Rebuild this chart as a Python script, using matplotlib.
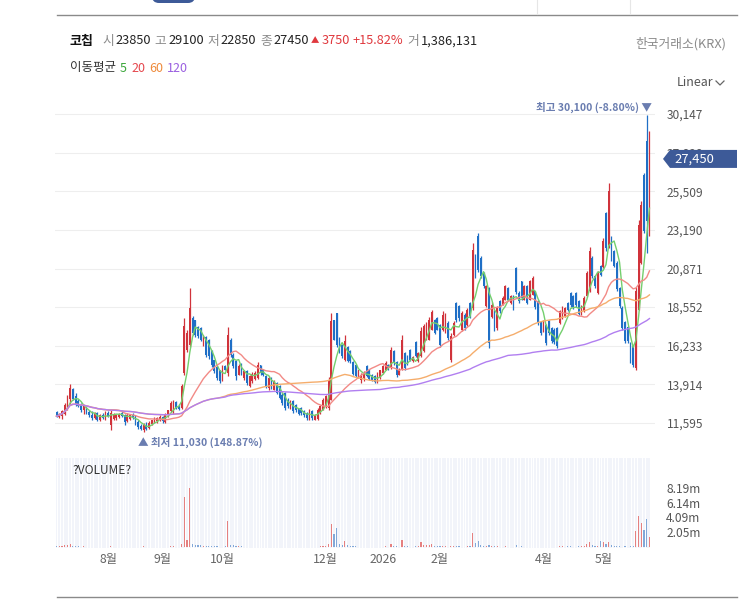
import matplotlib
matplotlib.use('Agg')
import matplotlib.pyplot as plt
import numpy as np
import pandas as pd
from matplotlib.patches import Polygon, FancyBboxPatch
from matplotlib.lines import Line2D
from matplotlib.transforms import IdentityTransform

plt.rcParams['font.family'] = ['Noto Sans CJK KR', 'DejaVu Sans']

# ---------------- data ----------------
stock_name = "코칩"
exchange = "한국거래소(KRX)"

opens = [
    12250,11950,12000,12150,12600,13050,13650,13200,12900,12700,12400,12550,12250,12100,11900,12200,11800,12100,11900,
    12200,11500,11850,11900,11950,12200,12050,11700,11850,12100,11950,11650,11400,11150,11500,11300,11550,11650,11700,11800,
    11950,11650,12050,12300,12400,12850,12600,12500,14600,16000,16300,17900,17750,17350,17300,16300,16750,16600,15950,15350,14950,14750,
    14200,15000,14600,16600,15700,15300,14500,15150,14300,14700,13800,14100,14250,14300,15050,14800,14400,13700,
    14300,13600,14000,13800,13300,13400,13000,12500,12900,12700,12450,12500,12300,12200,11800,12300,11800,11850,12200,12400,
    12600,12500,13000,17800,18200,16700,16300,15400,16150,15900,15250,15100,14350,14200,14300,15000,14800,14500,14400,14100,14300,
    14600,14800,15100,14900,15900,15250,14500,14800,15800,15600,16000,15300,16450,15300,15600,15900,16600,16600,17200,17800,17900,
    17500,17150,17050,17600,15400,16900,18800,18600,17200,18100,17500,18800,18500,21700,22800,21500,20600,
    18600,19700,17950,18300,17300,18900,18700,19000,19700,18800,19200,20900,19400,20100,19000,19800,19000,19300,19500,18900,17650,
    17100,17500,17700,17300,17200,17300,17600,17900,18000,18800,19400,19200,19400,18900,18100,18300,19200,19500,21500,20400,19400,21000,
    20950,24200,22150,22700,21950,21200,19700,18500,17650,17350,16400,16200,14900,18400,21200,26500,28500,23850,
]
highs = [
    12300,12200,12350,12800,13250,13950,13700,13400,13050,12800,12700,12600,12400,12300,12250,12250,12150,12200,12300,
    12300,12350,12200,12150,12200,12300,12150,12200,12100,12200,12050,11750,11550,11600,11650,11700,11800,11950,11950,12050,
    12000,12200,12400,12900,13000,12900,12750,13950,17900,17150,19700,18000,17800,17400,17350,16900,16800,16650,16000,15400,15000,14800,
    15100,15100,17350,16700,15800,15400,15150,15200,14800,14750,14500,14650,14700,15250,15100,14850,14500,14400,
    14350,14200,14050,13850,13400,13450,13100,12950,13000,12750,12500,12550,12350,12250,12450,12400,12150,12500,12650,13100,
    13300,14350,18200,17800,18200,16750,16350,16850,16200,16000,15300,15150,14800,14600,14700,15050,14850,14550,14450,14650,14800,
    15100,15300,15150,16150,15950,15300,14900,16900,15850,15650,16050,15600,16500,15850,17350,17550,17650,17950,18400,17850,17950,
    17550,18300,18200,17700,17000,17700,18850,18700,18300,18200,18500,18850,22400,21750,23000,21600,20650,
    19900,19750,18850,18400,18600,19000,19200,19900,19750,19300,19250,20950,19500,20150,19900,19900,20200,20450,19550,18950,17700,
    17800,17550,17750,17350,17300,17350,18400,18600,18550,18850,19450,19250,19450,18950,18700,19200,20750,22150,21600,20500,20700,21100,
    22700,24250,26000,22800,22000,21300,19750,18600,17700,17400,16450,16250,19750,23800,24900,26600,30100,29100,
]
lows = [
    11950,11880,11850,12050,12400,12700,12950,12600,12550,12250,12150,12150,11950,11800,11850,11700,11700,11850,11800,
    11950,11150,11800,11800,11900,11950,11500,11650,11800,11850,11500,11250,11150,11030,11150,11250,11500,11600,11600,11700,
    11600,11600,11950,12250,12150,12450,12350,12450,14500,15850,16150,16850,16750,16700,16500,16200,15550,15450,14950,14600,14150,14000,
    14100,14750,14400,15550,14900,14200,14450,14500,14200,13900,13750,14000,14150,14250,14450,14400,13700,13600,
    13650,13550,13350,13050,12700,12350,12500,12450,12200,12250,12100,12100,11950,11800,11750,11800,11750,11800,12150,12350,
    12500,12400,12950,16550,16150,15800,15500,15300,15250,15200,14450,14350,14300,14000,14100,14350,14200,14100,14000,14000,14250,
    14550,14750,14800,14850,15100,14350,14450,14750,14800,15050,15300,15250,15550,15250,15550,15850,16550,16550,17150,16950,17150,
    16150,17100,17000,16600,15250,16800,17650,17700,17100,17200,17400,17900,18400,20300,20650,20300,19700,
    18550,16100,17900,17100,17200,18200,18650,18950,18900,18750,18350,19350,18800,19000,18950,18750,18950,19250,18450,17500,16900,
    17050,16300,16900,16400,16350,16100,17550,17850,17950,18300,18550,18450,18550,18050,18050,18250,19150,19450,20300,19700,19350,20400,
    20900,21950,22100,21350,20950,19550,18500,17200,16400,16400,15200,14950,14750,18350,21150,23000,21800,22850,
]
closes = [
    12000,12150,12300,12700,13100,13700,13050,12750,12600,12350,12600,12200,12050,11900,12200,11750,12100,11900,12200,
    12000,12200,12150,12100,12150,12000,11650,12100,12050,11900,11600,11350,11250,11500,11250,11600,11750,11850,11900,11950,
    11700,12100,12350,12800,12900,12500,12450,13800,17400,17000,18500,17000,16900,16800,16600,16850,15700,15600,15100,14700,14300,14100,
    14900,14800,16900,15700,15000,14400,15000,14600,14700,14000,14400,14550,14600,15100,14600,14450,13800,14300,
    13700,14100,13400,13100,12800,12500,12600,12900,12300,12350,12150,12200,12050,11900,12350,11900,12050,12400,12600,13000,
    13200,14200,17700,16600,16300,15900,15600,16500,15300,15300,14550,14400,14750,14500,14600,14400,14250,14150,14050,14600,14750,
    15000,15200,14900,15950,15200,14450,14800,16600,14900,15100,15350,15550,15600,15800,17100,17400,17550,17800,18250,17000,17200,
    16300,18100,18000,16700,16800,17600,17800,17900,18200,17300,18400,18000,22000,20400,20800,20400,19800,
    19800,16400,18700,17300,18500,18300,19100,19800,19000,19200,18450,19450,18900,19100,19800,18800,20100,20300,18550,17600,17000,
    17700,16400,17000,16500,16450,16200,18300,18500,18500,18400,18650,18550,18650,18150,18600,19100,20600,21900,20400,19800,20600,20500,
    22500,22100,25500,21450,21050,19650,18600,17300,16500,16500,15300,15050,19500,23500,24700,23100,23700,27450,
]
# volume in millions of shares
volumes_m = [
    0.15,0.12,0.18,0.25,0.30,0.45,0.22,0.15,0.12,0.10,0.12,0.10,0.08,0.09,0.08,0.10,0.08,0.07,0.08,
    0.09,0.18,0.10,0.08,0.07,0.08,0.10,0.07,0.06,0.07,0.08,0.10,0.09,0.12,0.08,0.07,0.06,0.06,0.07,0.08,
    0.07,0.09,0.10,0.15,0.14,0.10,0.09,0.50,6.90,1.00,8.19,0.45,0.35,0.30,0.25,0.20,0.20,0.18,0.15,0.14,0.12,0.10,
    0.10,0.12,3.60,0.35,0.25,0.20,0.15,0.12,0.10,0.10,0.09,0.08,0.08,0.10,0.08,0.07,0.08,0.07,
    0.07,0.06,0.07,0.06,0.08,0.07,0.06,0.06,0.07,0.06,0.05,0.06,0.05,0.07,0.06,0.06,0.08,0.09,0.12,0.15,
    0.20,0.45,3.20,1.80,2.60,0.50,0.30,0.90,0.30,0.20,0.15,0.12,0.10,0.08,0.08,0.07,0.06,0.06,0.05,0.06,0.07,
    0.10,0.12,0.08,0.45,0.15,0.12,0.08,1.00,0.20,0.12,0.10,0.08,0.15,0.12,0.70,0.35,0.35,0.30,0.40,0.20,0.15,
    0.12,0.15,0.12,0.10,0.15,0.12,0.15,0.12,0.10,0.10,0.12,0.15,2.00,0.60,0.85,0.30,0.20,
    0.18,0.25,0.15,0.12,0.12,0.10,0.09,0.12,0.10,0.08,0.08,0.30,0.10,0.12,0.09,0.08,0.10,0.09,0.08,0.10,0.09,
    0.08,0.10,0.08,0.07,0.08,0.10,0.15,0.12,0.10,0.12,0.15,0.10,0.10,0.12,0.15,0.20,0.40,0.70,0.30,0.15,0.20,0.80,
    0.70,0.40,0.70,0.30,0.20,0.15,0.12,0.10,0.12,0.10,0.12,0.15,2.20,4.30,3.30,2.40,3.90,1.386131,
]
ma_windows = [5, 20, 60, 120]
ma_colors = ['#74cf6e', '#f28a86', '#f5ad6c', '#b17ff0']
ma_label_colors = ['#3aa63a', '#e5474d', '#ee8a3b', '#9a5fe0']
price_ticks = [11595, 13914, 16233, 18552, 20871, 23190, 25509, 27828, 30147]
month_labels = ['8월', '9월', '10월', '12월', '2026', '2월', '4월', '5월']
month_start_idx = [19, 39, 61, 99, 120, 141, 179, 201]

# ---------------- layout helpers ----------------
W, H = 747, 605
RED, BLUE = '#d0333b', '#1f6fc6'
VRED, VBLUE = '#e58080', '#82a8d8'

o = np.array(opens, float); h = np.array(highs, float)
l = np.array(lows, float); c = np.array(closes, float)
v = np.array(volumes_m) * 1e6
n = len(c)
idx = np.arange(n)
up = c >= o

fig = plt.figure(figsize=(W / 100, H / 100), dpi=100)
fig.patch.set_facecolor('white')
renderer = fig.canvas.get_renderer()

def fx(x):
    return x / W

def fy(y):
    return 1 - y / H

PL, PR = 55, 655
x0, dx = 56.5, 2.72
xlim = ((PL - x0) / dx, (PR - x0) / dx)

# ---------------- price panel ----------------
P_TOP, P_BOT = 98, 452
ax = fig.add_axes([fx(PL), fy(P_BOT), (PR - PL) / W, (P_BOT - P_TOP) / H])
step = price_ticks[1] - price_ticks[0]
pxstep = (423 - 114) / 8.0
ax.set_ylim(price_ticks[0] - (P_BOT - 423) * step / pxstep,
            price_ticks[-1] + (114 - P_TOP) * step / pxstep)
ax.set_xlim(*xlim)
for s in ax.spines.values():
    s.set_visible(False)
ax.set_yticks(price_ticks)
ax.set_yticklabels([f"{t:,}" for t in price_ticks])
ax.yaxis.tick_right()
ax.tick_params(axis='y', length=0, pad=8.5, labelsize=8.6, labelcolor='#555555')
ax.set_xticks([])
ax.grid(axis='y', color='#eeeeee', lw=0.8)
ax.set_axisbelow(True)

cols = np.where(up, RED, BLUE)
ax.vlines(idx, l, h, colors=cols, lw=0.9, zorder=2)
body_h = np.maximum(np.abs(c - o), 40)
ax.bar(idx, body_h, bottom=np.minimum(o, c), width=0.62, color=cols, zorder=2, linewidth=0)

s_close = pd.Series(c)
for w, col in zip(ma_windows, ma_colors):
    ax.plot(idx, s_close.rolling(w, min_periods=1).mean(), color=col, lw=1.0, zorder=3)

# high / low markers
imax = int(np.argmax(h)); imin = int(np.argmin(l))
last = c[-1]
pct_hi = (last - h[imax]) / h[imax] * 100
pct_lo = (last - l[imin]) / l[imin] * 100
mark_col = '#6a7db0'
ax.annotate(f"최고 {int(h[imax]):,} ({pct_hi:.2f}%) ▼", xy=(imax, h[imax]),
            xytext=(3.5, 5), textcoords='offset points', ha='right', va='center',
            fontsize=7.6, color=mark_col, fontweight='bold', zorder=5)
ax.annotate(f"▲ 최저 {int(l[imin]):,} ({pct_lo:.2f}%)", xy=(imin, l[imin]),
            xytext=(-4, -7), textcoords='offset points', ha='left', va='center',
            fontsize=7.6, color=mark_col, fontweight='bold', zorder=5)

# ---------------- volume panel ----------------
V_TOP, V_BOT = 458, 548
axv = fig.add_axes([fx(PL), fy(V_BOT), (PR - PL) / W, (V_BOT - V_TOP) / H])
vmax = v.max()
vpx = (547.3 - 487.7) / vmax
vlo = -(V_BOT - 547.3) / vpx
vhi = (547.3 - V_TOP) / vpx
axv.set_ylim(vlo, vhi)
axv.set_xlim(*xlim)
for s in axv.spines.values():
    s.set_visible(False)
axv.bar(idx, vhi - vlo, bottom=vlo, width=0.72, color='#f2f4fa', zorder=0, linewidth=0)
axv.bar(idx, v, width=0.42, color=np.where(up, VRED, VBLUE), zorder=2, linewidth=0)
vt = [vmax * f for f in (0.25, 0.5, 0.75, 1.0)]
axv.set_yticks(vt)
axv.set_yticklabels([f"{t / 1e6:.2f}m" for t in vt])
axv.yaxis.tick_right()
axv.tick_params(axis='y', length=0, pad=8.0, labelsize=8.6, labelcolor='#555555')
axv.set_xticks(month_start_idx)
axv.set_xticklabels(month_labels)
axv.tick_params(axis='x', length=0, pad=3.5, labelsize=8.8, labelcolor='#666666')
fig.text(fx(72), fy(470), "?VOLUME?", fontsize=8.6, color='#333333', va='center', ha='left')

# ---------------- header ----------------
def put(x, s, color='#222222', size=9.2, weight='normal', y=41, ha='left'):
    t = fig.text(fx(x), fy(y), s, color=color, fontsize=size, fontweight=weight,
                 va='center', ha=ha)
    bb = t.get_window_extent(renderer)
    return bb.x1  # pixels (display == image pixels at dpi 100)

LBL = '#8c8c8c'
UPC = '#e0393e'
chg = c[-1] - c[-2]
chg_pct = chg / c[-2] * 100
xx = put(70, stock_name, '#111111', 9.4, 'bold')
pieces = [("시", LBL), (f"{int(o[-1])}", None), ("고", LBL), (f"{int(h[-1])}", None),
          ("저", LBL), (f"{int(l[-1])}", None), ("종", LBL), (f"{int(c[-1])}", None)]
xx += 8
for k, (s, col) in enumerate(pieces):
    if col is None:
        xx = put(xx + 1.5, s, '#222222') + 4
    else:
        xx = put(xx, s, col)
xx = put(xx - 2, "▲", UPC, 6.0) + 2
xx = put(xx, f"{int(chg)}", UPC) + 3
xx = put(xx, f"+{chg_pct:.2f}%", UPC) + 4
xx = put(xx, "거", LBL)
put(xx + 1.5, f"{int(round(v[-1])):,}", '#222222')
put(726, exchange, '#8a8a8a', 9.2, ha='right', y=44)

xx = put(70, "이동평균", '#333333', 9.0, y=68) + 4
for w, col in zip(ma_windows, ma_label_colors):
    xx = put(xx, str(w), col, 9.0, y=68) + 4

put(677, "Linear", '#555555', 9.0, y=83)
fig.add_artist(Line2D([fx(716), fx(720), fx(724)], [fy(81), fy(85), fy(81)],
                      color='#666666', lw=0.9))

# ---------------- frame decorations ----------------
fig.add_artist(Line2D([fx(57), fx(737)], [fy(15), fy(15)], color='#8a8a8a', lw=1.0))
fig.add_artist(Line2D([fx(57), fx(737)], [fy(597), fy(597)], color='#8a8a8a', lw=1.0))
for xv in (537, 630):
    fig.add_artist(Line2D([fx(xv), fx(xv)], [fy(0), fy(14)], color='#e6e6e6', lw=0.8))
fig.add_artist(FancyBboxPatch((152, H - 3), 43, 14, boxstyle="round,pad=0,rounding_size=7",
                              transform=IdentityTransform(), facecolor='#3d5a98',
                              edgecolor='none', zorder=5))

# current price tag
ty = fig.transFigure.inverted().transform(ax.transData.transform((0, last)))[1]
hh = 9 / H
tag = Polygon([(fx(663), ty), (fx(670), ty + hh), (fx(737), ty + hh),
               (fx(737), ty - hh), (fx(670), ty - hh)], closed=True,
              transform=fig.transFigure, facecolor='#3d5a98', edgecolor='none', zorder=10)
fig.add_artist(tag)
fig.text(fx(674), ty, f"{int(last):,}", color='white', fontsize=9.4, va='center',
         ha='left', zorder=11)

fig.savefig('out.png', dpi=100, facecolor='white')
